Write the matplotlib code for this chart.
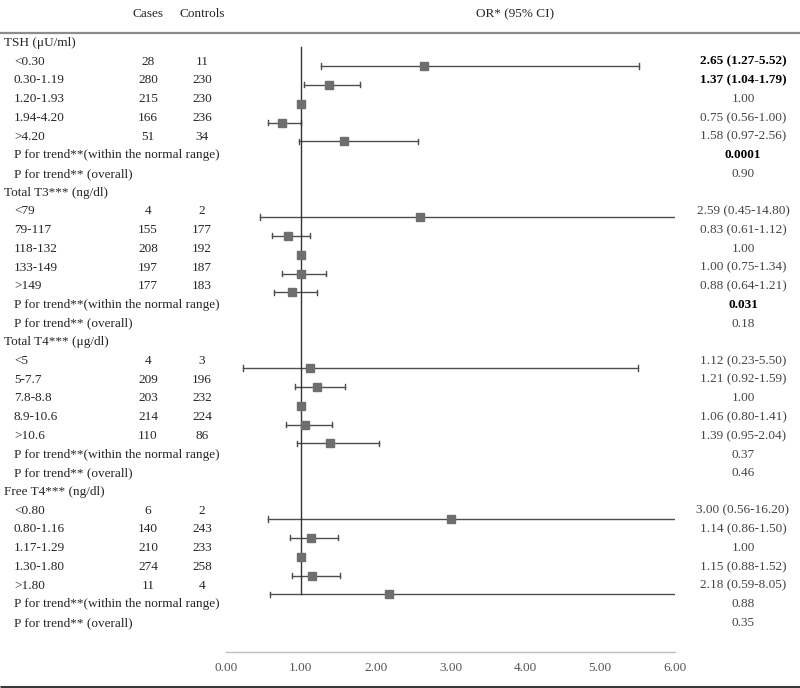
import matplotlib.pyplot as plt

plt.rcParams['font.family'] = ['Liberation Serif', 'DejaVu Serif']

groups = ["TSH (\u03bcU/ml)", "Total T3*** (ng/dl)", "Total T4*** (\u03bcg/dl)", "Free T4*** (ng/dl)"]
categories = [
    ["<0.30", "0.30-1.19", "1.20-1.93", "1.94-4.20", ">4.20"],
    ["<79", "79-117", "118-132", "133-149", ">149"],
    ["<5", "5-7.7", "7.8-8.8", "8.9-10.6", ">10.6"],
    ["<0.80", "0.80-1.16", "1.17-1.29", "1.30-1.80", ">1.80"],
]
cases = [
    [28, 280, 215, 166, 51],
    [4, 155, 208, 197, 177],
    [4, 209, 203, 214, 110],
    [6, 140, 210, 274, 11],
]
controls = [
    [11, 230, 230, 236, 34],
    [2, 177, 192, 187, 183],
    [3, 196, 232, 224, 86],
    [2, 243, 233, 258, 4],
]
odds = [
    [2.65, 1.37, 1.00, 0.75, 1.58],
    [2.59, 0.83, 1.00, 1.00, 0.88],
    [1.12, 1.21, 1.00, 1.06, 1.39],
    [3.00, 1.14, 1.00, 1.15, 2.18],
]
ci_low = [
    [1.27, 1.04, None, 0.56, 0.97],
    [0.45, 0.61, None, 0.75, 0.64],
    [0.23, 0.92, None, 0.80, 0.95],
    [0.56, 0.86, None, 0.88, 0.59],
]
ci_high = [
    [5.52, 1.79, None, 1.00, 2.56],
    [14.80, 1.12, None, 1.34, 1.21],
    [5.50, 1.59, None, 1.41, 2.04],
    [16.20, 1.50, None, 1.52, 8.05],
]
p_normal = ["0.0001", "0.031", "0.37", "0.88"]
p_overall = ["0.90", "0.18", "0.46", "0.35"]
# which OR cells / p values are bold in the source table
bold_or = [[True, True, False, False, False]] + [[False] * 5] * 3
bold_p = [True, True, False, False]
x_ticks = [0, 1, 2, 3, 4, 5, 6]

W, H = 800, 688
fig = plt.figure(figsize=(W / 100, H / 100), dpi=100)

# Layout axes in pixel units (y grows downward)
ax = fig.add_axes([0, 0, 1, 1])
ax.set_xlim(0, W)
ax.set_ylim(H, 0)
ax.axis("off")

# Forest axes: OR scale 0..6 placed between x=226 and x=675 px
x0, x1 = 226, 675
fax = fig.add_axes([x0 / W, 0, (x1 - x0) / W, 1])
fax.set_xlim(0, 6)
fax.set_ylim(H, 0)
fax.axis("off")

fs = 9.5
label_col = "#262626"
val_col = "#444444"
ci_col = "#4d4d4d"

text_top, text_step = 43, 18.71
mark_top, mark_step = 47.1, 18.875

# Header
ax.text(148, 14, "Cases", ha="center", va="center", fontsize=fs, color=label_col)
ax.text(202, 14, "Controls", ha="center", va="center", fontsize=fs, color=label_col)
ax.text(515, 14, "OR* (95% CI)", ha="center", va="center", fontsize=fs, color=label_col)
ax.plot([0, W], [33, 33], color="#8c8c8c", lw=1.6, solid_capstyle="butt")
ax.plot([0, W], [686.5, 686.5], color="#3a3a3a", lw=2.2, solid_capstyle="butt")

row = 0
for g in range(len(groups)):
    ty = text_top + row * text_step
    ax.text(4, ty, groups[g], ha="left", va="center", fontsize=fs, color=label_col)
    row += 1
    for k in range(len(categories[g])):
        ty = text_top + row * text_step
        my = mark_top + row * mark_step
        ax.text(14, ty, categories[g][k], ha="left", va="center", fontsize=fs, color=label_col)
        ax.text(148, ty, str(cases[g][k]), ha="center", va="center", fontsize=fs, color=label_col)
        ax.text(202, ty, str(controls[g][k]), ha="center", va="center", fontsize=fs, color=label_col)
        o = odds[g][k]
        lo, hi = ci_low[g][k], ci_high[g][k]
        if lo is None:
            s = f"{o:.2f}"
        else:
            s = f"{o:.2f} ({lo:.2f}-{hi:.2f})"
            fax.plot([lo, hi], [my, my], color=ci_col, lw=1.0, clip_on=True)
            for cx in (lo, hi):
                fax.plot([cx, cx], [my - 2.6, my + 2.6], color=ci_col, lw=1.0, clip_on=True)
        fax.plot([o], [my], marker="s", ms=5.8, color="#6e6e6e", ls="none", zorder=4)
        if bold_or[g][k]:
            ax.text(743, ty, s, ha="center", va="center", fontsize=fs, color="black", fontweight="bold")
        else:
            ax.text(743, ty, s, ha="center", va="center", fontsize=fs, color=val_col)
        row += 1
    ty = text_top + row * text_step
    ax.text(14, ty, "P for trend**(within the normal range)", ha="left", va="center",
            fontsize=fs, color=label_col)
    ax.text(743, ty, p_normal[g], ha="center", va="center", fontsize=fs,
            color="black" if bold_p[g] else val_col,
            fontweight="bold" if bold_p[g] else "normal")
    row += 1
    ty = text_top + row * text_step
    ax.text(14, ty, "P for trend** (overall)", ha="left", va="center", fontsize=fs, color=label_col)
    ax.text(743, ty, p_overall[g], ha="center", va="center", fontsize=fs, color=val_col)
    row += 1

# Reference line at OR = 1
fax.plot([1, 1], [mark_top, mark_top + 29 * mark_step], color="#333333", lw=1.0, zorder=2)

# x axis baseline and tick labels
axis_y = 652
fax.plot([0, 6], [axis_y, axis_y], color="#c0c0c0", lw=1.0, clip_on=False)
for t in x_ticks:
    fax.text(t, 668, f"{t:.2f}", ha="center", va="center", fontsize=fs, color="#555555",
             clip_on=False)

fig.savefig("out.png", dpi=100)
